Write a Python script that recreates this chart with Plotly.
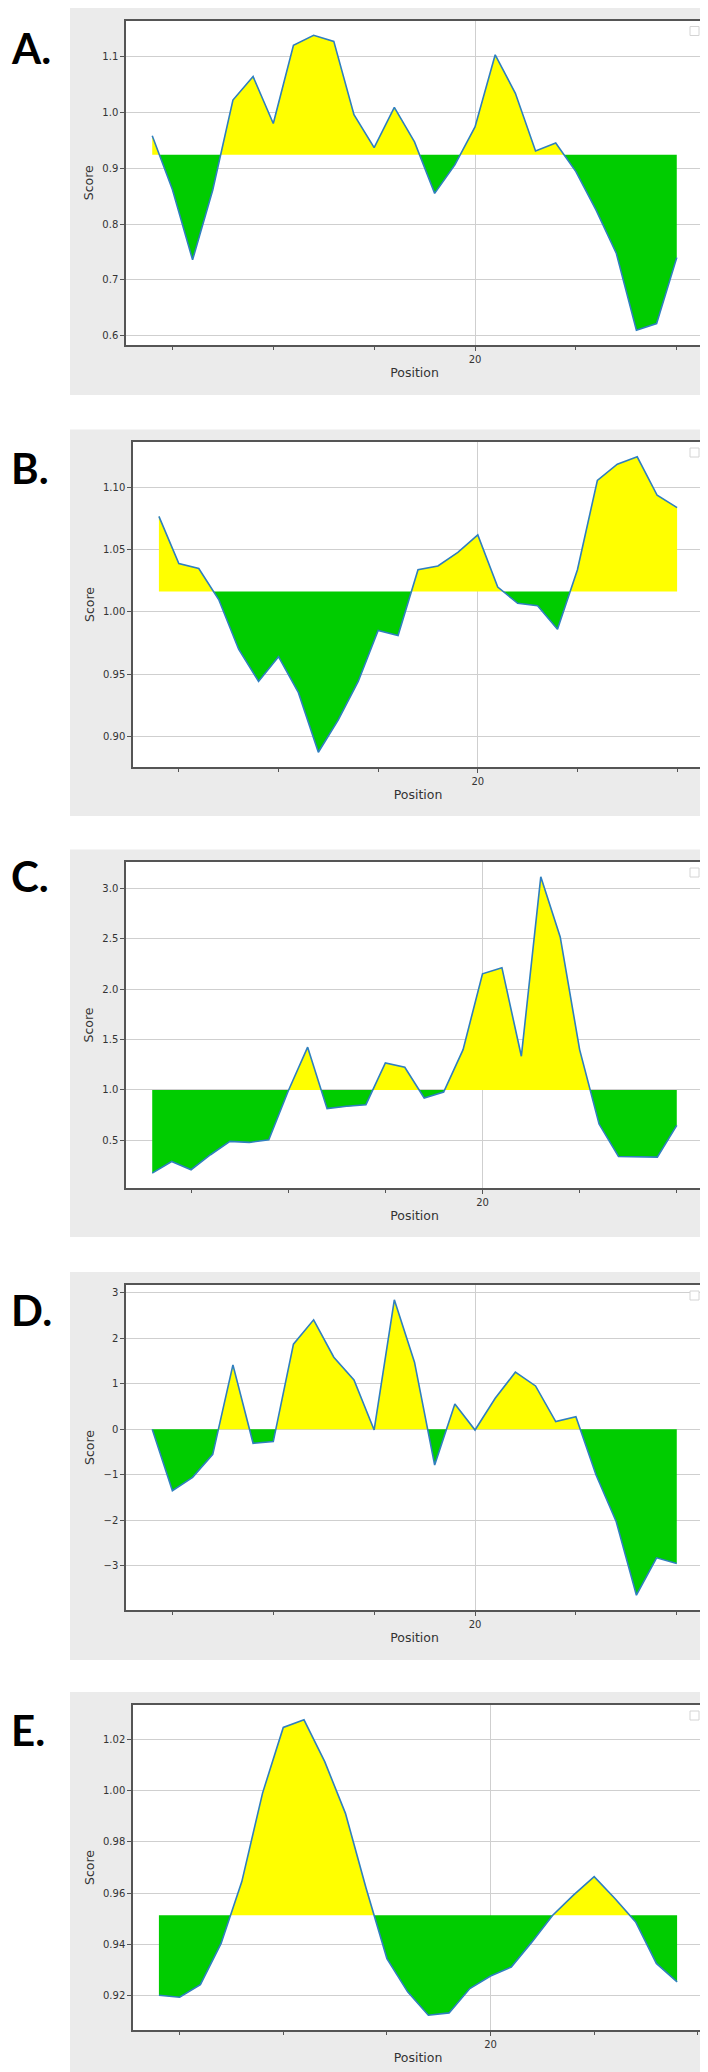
import numpy as np
import plotly.graph_objects as go

W, H = 708, 2072

# ---------------- data ----------------
pos_A = [4, 5, 6, 7, 8, 9, 10, 11, 12, 13, 14, 15, 16, 17, 18, 19, 20, 21, 22, 23, 24, 25, 26, 27, 28, 29, 30]
score_A = [0.958, 0.862, 0.736, 0.861, 1.022, 1.064, 0.980, 1.120, 1.138, 1.127, 0.996, 0.937, 1.009, 0.947,
           0.855, 0.906, 0.974, 1.103, 1.034, 0.931, 0.945, 0.894, 0.825, 0.748, 0.610, 0.622, 0.740]

pos_B = [4, 5, 6, 7, 8, 9, 10, 11, 12, 13, 14, 15, 16, 17, 18, 19, 20, 21, 22, 23, 24, 25, 26, 27, 28, 29, 30]
score_B = [1.077, 1.039, 1.035, 1.010, 0.970, 0.944, 0.964, 0.935, 0.887, 0.913, 0.944, 0.985, 0.981, 1.034,
           1.037, 1.048, 1.062, 1.020, 1.007, 1.005, 0.986, 1.034, 1.106, 1.119, 1.125, 1.094, 1.084]

pos_C = [3, 4, 5, 6, 7, 8, 9, 10, 11, 12, 13, 14, 15, 16, 17, 18, 19, 20, 21, 22, 23, 24, 25, 26, 27, 28, 29, 30]
score_C = [0.175, 0.291, 0.209, 0.358, 0.490, 0.480, 0.507, 0.990, 1.424, 0.815, 0.838, 0.854, 1.268, 1.225,
           0.920, 0.980, 1.400, 2.152, 2.212, 1.334, 3.113, 2.517, 1.400, 0.662, 0.341, 0.341, 0.334, 0.649]

pos_D = [4, 5, 6, 7, 8, 9, 10, 11, 12, 13, 14, 15, 16, 17, 18, 19, 20, 21, 22, 23, 24, 25, 26, 27, 28, 29, 30]
score_D = [0.0, -1.35, -1.057, -0.55, 1.417, -0.308, -0.27, 1.872, 2.408, 1.586, 1.087, -0.015, 2.849, 1.476,
           -0.786, 0.558, -0.015, 0.683, 1.256, 0.954, 0.169, 0.279, -1.006, -2.034, -3.649, -2.827, -2.952]

pos_E = [4, 5, 6, 7, 8, 9, 10, 11, 12, 13, 14, 15, 16, 17, 18, 19, 20, 21, 22, 23, 24, 25, 26, 27, 28, 29]
score_E = [0.9202, 0.9194, 0.9243, 0.9404, 0.9645, 0.9990, 1.0246, 1.0276, 1.0113, 0.9911, 0.9618, 0.9345, 0.9215,
           0.9124, 0.9133, 0.9228, 0.9277, 0.9312, 0.9410, 0.9514, 0.9592, 0.9664, 0.9579, 0.9488, 0.9326, 0.9254]

panel_labels = ["A.", "B.", "C.", "D.", "E."]
baselines = [0.924, 1.0164, 1.0, 0.0, 0.9514]

yticks_A = [0.6, 0.7, 0.8, 0.9, 1.0, 1.1]
ytext_A = ["0.6", "0.7", "0.8", "0.9", "1.0", "1.1"]
yticks_B = [0.90, 0.95, 1.00, 1.05, 1.10]
ytext_B = ["0.90", "0.95", "1.00", "1.05", "1.10"]
yticks_C = [0.5, 1.0, 1.5, 2.0, 2.5, 3.0]
ytext_C = ["0.5", "1.0", "1.5", "2.0", "2.5", "3.0"]
yticks_D = [-3, -2, -1, 0, 1, 2, 3]
ytext_D = ["\u22123", "\u22122", "\u22121", "0", "1", "2", "3"]
yticks_E = [0.92, 0.94, 0.96, 0.98, 1.00, 1.02]
ytext_E = ["0.92", "0.94", "0.96", "0.98", "1.00", "1.02"]

xtick_major = [20]
xtick_major_text = ["20"]
xtick_minor = [5, 10, 15, 25, 30]

# ---------------- layout geometry (pixels) ----------------
panels = [
    dict(x=pos_A, y=score_A, yt=yticks_A, ytt=ytext_A, gray=(0, 387), plot=(118, 695, 12.5, 337), lab=40),
    dict(x=pos_B, y=score_B, yt=yticks_B, ytt=ytext_B, gray=(421.5, 808), plot=(125, 695, 434, 759), lab=460),
    dict(x=pos_C, y=score_C, yt=yticks_C, ytt=ytext_C, gray=(841.5, 1229), plot=(118, 695, 854, 1180), lab=868),
    dict(x=pos_D, y=score_D, yt=yticks_D, ytt=ytext_D, gray=(1264, 1652), plot=(118, 695, 1277, 1602), lab=1302),
    dict(x=pos_E, y=score_E, yt=yticks_E, ytt=ytext_E, gray=(1684, 2072), plot=(125, 695, 1697, 2022), lab=1722),
]

YELLOW = "#ffff00"
GREEN = "#00cc00"
LINE = "#2f7fbf"
GRAY_BG = "#ebebeb"
GRID = "#cfcfcf"
FRAME = "#555555"
TXT = "#333333"


def with_crossings(x, y, base):
    xs, ys = [x[0]], [y[0]]
    for i in range(1, len(x)):
        y0, y1 = y[i - 1], y[i]
        if (y0 - base) * (y1 - base) < 0:
            t = (base - y0) / (y1 - y0)
            xs.append(x[i - 1] + t * (x[i] - x[i - 1]))
            ys.append(base)
        xs.append(x[i])
        ys.append(y[i])
    return np.array(xs, dtype=float), np.array(ys, dtype=float)


def padded(lo, hi, frac=0.05):
    d = hi - lo
    return [lo - frac * d, hi + frac * d]


fig = go.Figure()
shapes = []
annotations = []

for k, p in enumerate(panels):
    n = k + 1
    xa = "x" if n == 1 else f"x{n}"
    ya = "y" if n == 1 else f"y{n}"
    base = baselines[k]
    xs, ys = with_crossings(p["x"], p["y"], base)
    upper = np.maximum(ys, base)
    lower = np.minimum(ys, base)
    basel = np.full_like(xs, base)

    fig.add_trace(go.Scatter(x=xs, y=basel, mode="lines", line=dict(width=0, color=YELLOW),
                             showlegend=False, hoverinfo="skip", xaxis=xa, yaxis=ya))
    fig.add_trace(go.Scatter(x=xs, y=upper, mode="lines", line=dict(width=0, color=YELLOW),
                             fill="tonexty", fillcolor=YELLOW, showlegend=False, hoverinfo="skip",
                             xaxis=xa, yaxis=ya))
    fig.add_trace(go.Scatter(x=xs, y=basel, mode="lines", line=dict(width=0, color=GREEN),
                             showlegend=False, hoverinfo="skip", xaxis=xa, yaxis=ya))
    fig.add_trace(go.Scatter(x=xs, y=lower, mode="lines", line=dict(width=0, color=GREEN),
                             fill="tonexty", fillcolor=GREEN, showlegend=False, hoverinfo="skip",
                             xaxis=xa, yaxis=ya))
    fig.add_trace(go.Scatter(x=p["x"], y=p["y"], mode="lines", line=dict(width=1.6, color=LINE),
                             showlegend=False, xaxis=xa, yaxis=ya))

    l, r, t, b = p["plot"]
    g0, g1 = p["gray"]
    xr = padded(min(p["x"]), max(p["x"]))
    yr = padded(min(min(p["y"]), base), max(max(p["y"]), base))

    xkey = "xaxis" if n == 1 else f"xaxis{n}"
    ykey = "yaxis" if n == 1 else f"yaxis{n}"
    fig.update_layout({
        xkey: dict(domain=[l / W, r / W], anchor=ya, range=xr,
                   tickmode="array", tickvals=xtick_major, ticktext=xtick_major_text,
                   ticks="outside", ticklen=4, tickwidth=1, tickcolor=FRAME,
                   showgrid=True, gridcolor=GRID, gridwidth=1.2, zeroline=False,
                   showline=True, linecolor=FRAME, linewidth=1.5, mirror=True,
                   tickfont=dict(family="DejaVu Sans", size=10, color=TXT),
                   minor=dict(tickmode="array", tickvals=xtick_minor, ticks="outside", ticklen=3,
                              tickwidth=1, tickcolor=FRAME, showgrid=False),
                   title=dict(text="Position", font=dict(family="DejaVu Sans", size=12.5, color=TXT),
                              standoff=4)),
        ykey: dict(domain=[1 - b / H, 1 - t / H], anchor=xa, range=yr,
                   tickmode="array", tickvals=p["yt"], ticktext=p["ytt"],
                   ticks="outside", ticklen=4, tickwidth=1, tickcolor=FRAME,
                   showgrid=True, gridcolor=GRID, gridwidth=1.2, zeroline=False,
                   showline=True, linecolor=FRAME, linewidth=1.5, mirror=True,
                   tickfont=dict(family="DejaVu Sans", size=10, color=TXT),
                   title=dict(text="Score", font=dict(family="DejaVu Sans", size=12.5, color=TXT),
                              standoff=6)),
    })

    shapes.append(dict(type="rect", xref="paper", yref="paper", x0=62 / W, x1=1.0,
                       y0=1 - g1 / H, y1=1 - g0 / H, fillcolor=GRAY_BG, line=dict(width=0), layer="below"))
    shapes.append(dict(type="rect", xref="paper", yref="paper", x0=l / W, x1=r / W,
                       y0=1 - b / H, y1=1 - t / H, fillcolor="white", line=dict(width=0), layer="below"))
    # empty legend box (top right)
    shapes.append(dict(type="rect", xref="paper", yref="paper", x0=(r - 13) / W, x1=(r - 4) / W,
                       y0=1 - (t + 15) / H, y1=1 - (t + 6) / H, fillcolor="white",
                       line=dict(width=1, color="#d4d4d4"), layer="above"))

    annotations.append(dict(text=panel_labels[k], xref="paper", yref="paper", x=1 / W, y=1 - p["lab"] / H,
                            xanchor="left", yanchor="middle", showarrow=False,
                            font=dict(family="Lato", size=42, color="black", weight="bold")))

fig.update_layout(width=W, height=H, margin=dict(l=0, r=0, t=0, b=0),
                  paper_bgcolor="white", plot_bgcolor="white",
                  shapes=shapes, annotations=annotations, showlegend=False)

fig.write_html("out.html")
